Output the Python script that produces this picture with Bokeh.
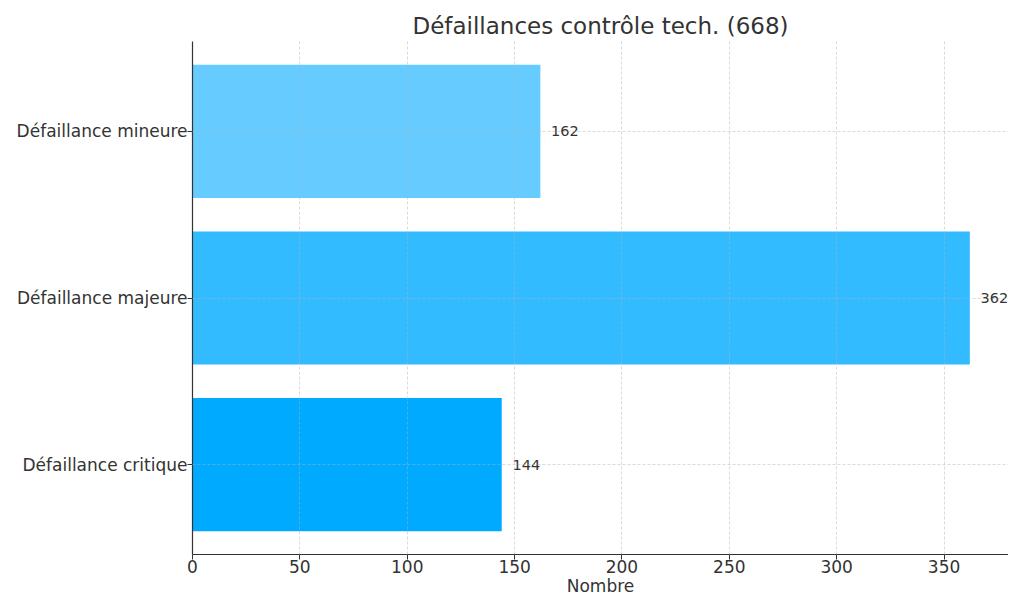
from bokeh.plotting import figure
from bokeh.models import ColumnDataSource, FactorRange, Range1d, FixedTicker
from bokeh.embed import file_html
from bokeh.resources import INLINE
from bokeh.core.properties import value

categories = ["Défaillance critique", "Défaillance majeure", "Défaillance mineure"]
counts = [144, 362, 162]
colors = ["#00AAFF", "#33BBFF", "#66CCFF"]
x_ticks = [0, 50, 100, 150, 200, 250, 300, 350]
title_text = "Défaillances contrôle tech. (%d)" % sum(counts)

src = ColumnDataSource(dict(
    cat=categories,
    n=counts,
    color=colors,
    lx=[c + 5 for c in counts],
    lbl=[str(c) for c in counts],
))

FONT = "DejaVu Sans"

p = figure(
    width=1008, height=598,
    y_range=FactorRange(factors=categories, range_padding=0.0267),
    x_range=Range1d(0, 380),
    output_backend="svg", toolbar_location=None,
    title=title_text,
    min_border_left=192, min_border_right=0, min_border_top=41, min_border_bottom=44,
)
p.hbar(y="cat", right="n", left=0, height=0.8, color="color", source=src, line_color=None)
p.text(x="lx", y="cat", text="lbl", source=src, text_align="left", text_baseline="middle",
       text_font=value(FONT), text_font_size="14.5px", text_color="#333333")

p.title.align = "center"
p.title.text_font = FONT
p.title.text_font_size = "23px"
p.title.text_font_style = "normal"
p.title.text_color = "#333333"
p.title.offset = 0
p.title.standoff = 6

p.outline_line_color = None
p.background_fill_color = "white"
p.border_fill_color = "white"

for ax in (p.xaxis, p.yaxis):
    ax.axis_line_color = "#333333"
    ax.axis_line_width = 1.2
    ax.major_tick_line_color = "#333333"
    ax.major_tick_out = 5
    ax.major_tick_in = 0
    ax.minor_tick_line_color = None
    ax.major_label_text_font = FONT
    ax.major_label_text_font_size = "17px"
    ax.major_label_text_color = "#333333"

p.xaxis.ticker = FixedTicker(ticks=x_ticks)
p.xaxis.axis_label = "Nombre"
p.xaxis.axis_label_text_font = FONT
p.xaxis.axis_label_text_font_size = "17px"
p.xaxis.axis_label_text_font_style = "normal"
p.xaxis.axis_label_text_color = "#333333"
p.xaxis.axis_label_standoff = 0
p.xaxis.major_label_standoff = 0
p.yaxis.major_label_standoff = 0
p.yaxis.group_text_font_size = "0px"

for g in (p.xgrid, p.ygrid):
    g.grid_line_color = "#b0b0b0"
    g.grid_line_alpha = 0.6
    g.grid_line_dash = "3 2"
    g.grid_line_width = 0.8
    g.level = "overlay"

open("out.html", "w").write(file_html(p, INLINE))
